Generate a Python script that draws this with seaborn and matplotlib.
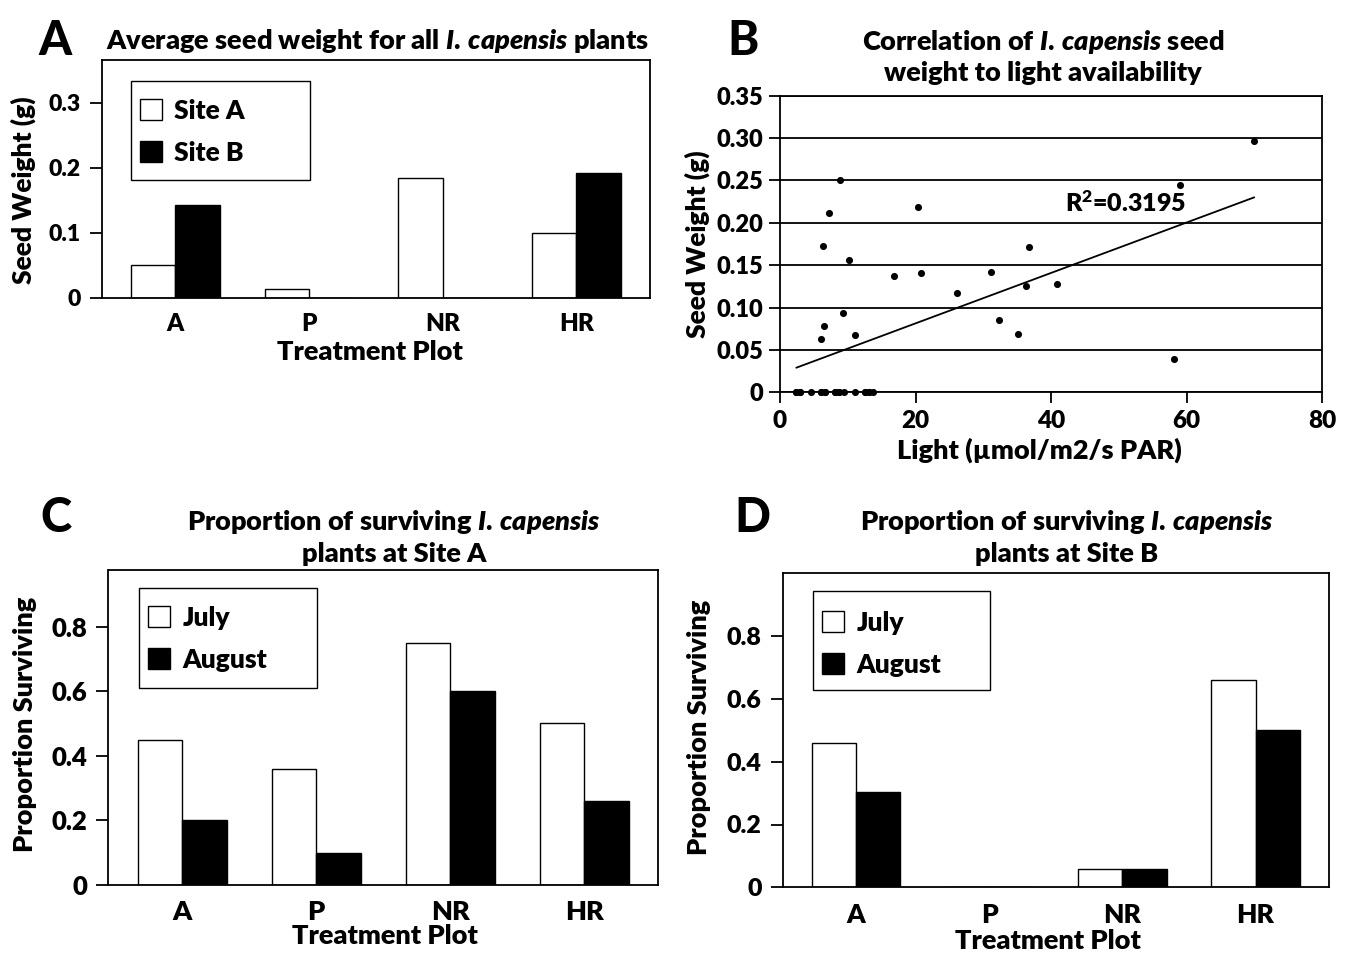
import matplotlib
matplotlib.use("Agg")
from matplotlib import pyplot as plt
from matplotlib.patches import Rectangle
import pandas as pd
import seaborn as sns

# treatment plots shared by the bar panels
plots = ["A", "P", "NR", "HR"]

# panel A - average seed weight (g)
seed_site_a = [0.050, 0.014, 0.185, 0.100]
seed_site_b = [0.143, 0.0, 0.0, 0.192]

# panel B - light vs seed weight
light = [8.9, 7.3, 6.3, 10.2, 20.4, 16.9, 20.8, 26.1, 31.2, 36.3, 36.7,
         32.3, 35.1, 40.9, 9.3, 6.5, 6.1, 11.0, 70.0, 59.1, 58.2,
         2.4, 3.0, 4.6, 6.1, 6.7, 8.1, 8.7, 9.4, 11.1, 12.6, 13.2, 13.8,
         # overlapping zero-weight plants (hidden under the dots above)
         2.4, 3.0, 6.1, 6.7, 8.1, 8.7, 12.6, 13.2]
seed_weight = [0.250, 0.212, 0.173, 0.156, 0.219, 0.137, 0.141, 0.117, 0.142, 0.125, 0.171,
               0.085, 0.069, 0.128, 0.094, 0.078, 0.063, 0.068, 0.296, 0.245, 0.039,
               0, 0, 0, 0, 0, 0, 0, 0, 0, 0, 0, 0,
               0, 0, 0, 0, 0, 0, 0, 0]
r2_text = "R$^{2}$=0.3195"

# panels C and D - proportion surviving
surv_a_july = [0.45, 0.36, 0.75, 0.50]
surv_a_aug = [0.20, 0.10, 0.60, 0.26]
surv_b_july = [0.46, 0.0, 0.057, 0.66]
surv_b_aug = [0.305, 0.0, 0.059, 0.50]

seed_ticks = [0, 0.1, 0.2, 0.3]
seed_ticklabels = ["0", "0.1", "0.2", "0.3"]
light_xticks = [0, 20, 40, 60, 80]
light_yticks = [0, 0.05, 0.10, 0.15, 0.20, 0.25, 0.30, 0.35]
light_yticklabels = ["0", "0.05", "0.10", "0.15", "0.20", "0.25", "0.30", "0.35"]
surv_ticks = [0, 0.2, 0.4, 0.6, 0.8]
surv_ticklabels = ["0", "0.2", "0.4", "0.6", "0.8"]

WEIGHT = "heavy"
SPECIES = r"$\mathit{I.\,capensis}$"

sns.set_theme(style="white")
plt.rcParams["font.family"] = ["Lato", "DejaVu Sans"]
plt.rcParams["font.weight"] = WEIGHT
plt.rcParams["axes.labelweight"] = WEIGHT
plt.rcParams["mathtext.fontset"] = "custom"
plt.rcParams["mathtext.rm"] = "Lato:heavy"
plt.rcParams["mathtext.it"] = "Lato:italic:heavy"
plt.rcParams["mathtext.bf"] = "Lato:heavy"
plt.rcParams["text.color"] = "black"
plt.rcParams["axes.labelcolor"] = "black"
plt.rcParams["xtick.color"] = "black"
plt.rcParams["ytick.color"] = "black"

W, H = 1351, 956
fig = plt.figure(figsize=(W / 100, H / 100), dpi=100)


def px_axes(l, t, r, b):
    return fig.add_axes([l / W, 1 - b / H, (r - l) / W, (b - t) / H])


def to_ax(ax, x, y):
    # pixel (from top-left) -> axes fraction
    inv = ax.transAxes.inverted()
    return inv.transform((x, H - y))


def style_box(ax):
    for s in ax.spines.values():
        s.set_visible(True)
        s.set_color("black")
        s.set_linewidth(1.3)


def bar_panel(ax, first, second, names, ylim, ticks, ticklabels, tick_size, legend_box, handle_left, row1_y):
    df = pd.DataFrame({"plot": plots * 2,
                       "value": first + second,
                       "group": [names[0]] * 4 + [names[1]] * 4})
    sns.barplot(data=df, x="plot", y="value", hue="group", hue_order=names,
                palette=["white", "black"], edgecolor="black", linewidth=1.0,
                width=0.665, gap=0, errorbar=None, saturation=1, ax=ax)
    ax.set_xlim(-0.55, 3.55)
    ax.set_ylim(*ylim)
    ax.set_yticks(ticks)
    ax.set_yticklabels(ticklabels)
    style_box(ax)
    ax.tick_params(axis="y", left=True, length=9, width=1.3, pad=6, labelsize=tick_size)
    ax.tick_params(axis="x", bottom=False, length=0, pad=11, labelsize=tick_size + 1)
    ax.set_xlabel("")
    ax.set_ylabel("")
    # legend frame
    x0, y0 = to_ax(ax, legend_box[0], legend_box[3])
    x1, y1 = to_ax(ax, legend_box[2], legend_box[1])
    ax.add_patch(Rectangle((x0, y0), x1 - x0, y1 - y0, transform=ax.transAxes,
                           facecolor="white", edgecolor="black", linewidth=1.0, zorder=5))
    handles, labels = ax.get_legend_handles_labels()
    hx, hy = to_ax(ax, handle_left, row1_y)
    leg = ax.legend(handles, labels, loc="upper left", bbox_to_anchor=(hx, hy),
                    frameon=False, borderpad=0, borderaxespad=0, handlelength=0.85,
                    handleheight=0.85, handletextpad=0.45, labelspacing=0.68,
                    prop={"weight": WEIGHT, "size": 19})
    leg.set_zorder(6)


# ---------------- panel A ----------------
axA = px_axes(101.7, 60, 650, 297.7)
bar_panel(axA, seed_site_a, seed_site_b, ["Site A", "Site B"], (0, 0.366),
          seed_ticks, seed_ticklabels, 16.5, (130.7, 80.7, 310, 180), 140, 99)
axA.set_ylabel("Seed Weight (g)", fontsize=19, va="center")
axA.yaxis.set_label_coords(*to_ax(axA, 23, 190))
axA.set_xlabel("Treatment Plot", fontsize=19.5, va="center")
axA.xaxis.set_label_coords(*to_ax(axA, 370, 352))

# ---------------- panel B ----------------
axB = px_axes(780, 95.7, 1322, 392.3)
sns.scatterplot(x=light, y=seed_weight, color="black", s=26, linewidth=0, ax=axB,
                zorder=5, clip_on=False)
sns.regplot(x=light, y=seed_weight, scatter=False, ci=None, color="black",
            line_kws={"linewidth": 1.3}, ax=axB)
axB.set_xlim(0, 80)
axB.set_ylim(0, 0.35)
axB.set_xticks(light_xticks)
axB.set_yticks(light_yticks)
axB.set_yticklabels(light_yticklabels)
axB.yaxis.grid(True, color="black", linewidth=1.3)
axB.xaxis.grid(False)
axB.set_axisbelow(True)
style_box(axB)
axB.tick_params(axis="y", left=True, length=8, width=1.3, pad=4, labelsize=17)
axB.tick_params(axis="x", bottom=True, length=8, width=1.3, pad=5, labelsize=17.5)
axB.text(42.1, 0.223, r2_text, fontsize=18, fontweight=WEIGHT, va="center", ha="left")
axB.set_ylabel("Seed Weight (g)", fontsize=19, va="center")
axB.yaxis.set_label_coords(*to_ax(axB, 697, 244))
axB.set_xlabel("Light (µmol/m2/s PAR)", fontsize=19.5, va="center")
axB.xaxis.set_label_coords(*to_ax(axB, 1039, 450))

# ---------------- panel C ----------------
axC = px_axes(108.5, 570, 658, 885)
bar_panel(axC, surv_a_july, surv_a_aug, ["July", "August"], (0, 0.975),
          surv_ticks, surv_ticklabels, 18.5, (138.6, 588.3, 316.7, 688.3), 148, 606)
axC.set_ylabel("Proportion Surviving", fontsize=19.5, va="center")
axC.yaxis.set_label_coords(*to_ax(axC, 25, 724))
axC.set_xlabel("Treatment Plot", fontsize=19.5, va="center")
axC.xaxis.set_label_coords(*to_ax(axC, 385, 936))

# ---------------- panel D ----------------
axD = px_axes(782.7, 573.3, 1328.8, 887.3)
bar_panel(axD, surv_b_july, surv_b_aug, ["July", "August"], (0, 1.0),
          surv_ticks, surv_ticklabels, 18, (813, 591, 990, 690), 822, 611)
axD.set_ylabel("Proportion Surviving", fontsize=19.5, va="center")
axD.yaxis.set_label_coords(*to_ax(axD, 699, 727))
axD.set_xlabel("Treatment Plot", fontsize=19.5, va="center")
axD.xaxis.set_label_coords(*to_ax(axD, 1048, 941))

# ---------------- titles and panel letters ----------------
def ftext(x, y, s, **kw):
    fig.text(x / W, 1 - y / H, s, **kw)


title_kw = dict(fontsize=19.5, fontweight=WEIGHT, ha="center", va="baseline")
ftext(378, 49, f"Average seed weight for all {SPECIES} plants", **title_kw)
ftext(1043, 50, f"Correlation of {SPECIES} seed", **title_kw)
ftext(1043, 81, "weight to light availability", **title_kw)
ftext(394, 530, f"Proportion of surviving {SPECIES}", **title_kw)
ftext(394, 562, "plants at Site A", **title_kw)
ftext(1067, 530, f"Proportion of surviving {SPECIES}", **title_kw)
ftext(1067, 562, "plants at Site B", **title_kw)

letter_kw = dict(fontsize=34, fontweight="black", ha="left", va="baseline")
ftext(38, 55, "A", **letter_kw)
ftext(727, 55, "B", **letter_kw)
ftext(40, 532, "C", **letter_kw)
ftext(734, 532, "D", **letter_kw)

fig.savefig("out.png", dpi=100, facecolor="white")
